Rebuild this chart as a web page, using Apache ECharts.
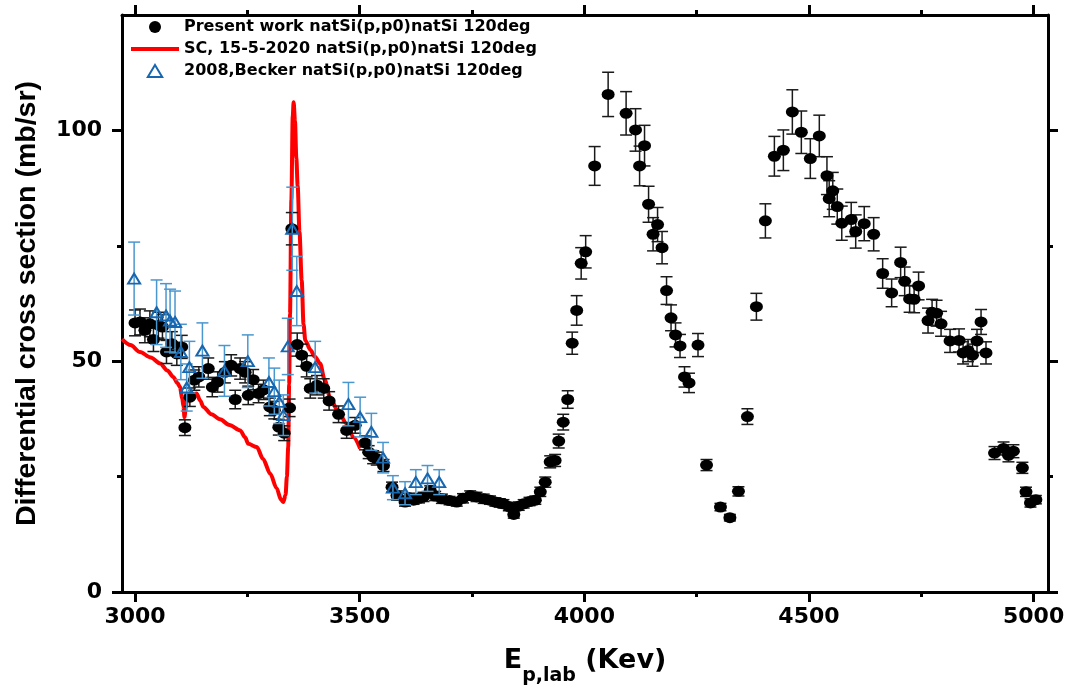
<!DOCTYPE html>
<html>
<head>
<meta charset="utf-8">
<script src="https://cdn.jsdelivr.net/npm/echarts@6/dist/echarts.min.js"></script>
<style>
  html, body { margin: 0; padding: 0; background: #fff; }
  #chart { width: 1070px; height: 692px; }
</style>
</head>
<body>
<div id="chart"></div>
<script>
// axis ranges and ticks
const xMin = 2971, xMax = 5032
const yMin = 0, yMax = 125
const xMajor = [3000, 3500, 4000, 4500, 5000]
const xMinor = [3250, 3750, 4250, 4750]
const yMajor = [0, 50, 100]
const yMinor = [25, 75]

// Present work: energy (keV), cross section (mb/sr), error
const presentX = [3000, 3011, 3022, 3033, 3041, 3052, 3061, 3070, 3082, 3093,
  3104, 3111, 3122, 3132, 3142, 3163, 3172, 3184, 3200, 3214,
  3223, 3234, 3245, 3252, 3263, 3275, 3286, 3300, 3310, 3320,
  3332, 3344, 3349, 3361, 3371, 3382, 3390, 3405, 3420, 3432,
  3453, 3471, 3490, 3512, 3520, 3530, 3538, 3553, 3572, 3583,
  3601, 3610, 3620, 3632, 3642, 3657, 3668, 3683, 3700, 3716,
  3730, 3746, 3760, 3776, 3790, 3802, 3812, 3820, 3832, 3843,
  3854, 3865, 3878, 3891, 3902, 3913, 3924, 3935, 3943, 3953,
  3963, 3973, 3983, 3993, 4003, 4023, 4053, 4093, 4114, 4123,
  4134, 4143, 4153, 4163, 4173, 4183, 4193, 4203, 4213, 4223,
  4233, 4253, 4272, 4303, 4324, 4343, 4363, 4383, 4403, 4423,
  4443, 4463, 4483, 4503, 4523, 4540, 4545, 4553, 4563, 4573,
  4594, 4604, 4623, 4644, 4664, 4684, 4704, 4713, 4724, 4734,
  4744, 4765, 4774, 4784, 4794, 4814, 4834, 4843, 4854, 4864,
  4874, 4883, 4894, 4913, 4933, 4944, 4955, 4975, 4983, 4993,
  5005]
const presentY = [58.3, 58.5, 56.7, 58.1, 54.7, 57.8, 57.4, 52.0, 53.8, 51.6,
  53.1, 35.6, 42.2, 45.9, 46.6, 48.4, 44.4, 45.5, 47.6, 49.1,
  41.7, 48.4, 47.6, 42.6, 46.0, 43.0, 43.8, 40.1, 39.4, 35.7,
  34.4, 39.9, 78.7, 53.6, 51.3, 48.9, 44.1, 44.8, 44.1, 41.4,
  38.5, 35.0, 36.1, 32.3, 30.3, 29.2, 28.9, 27.4, 22.7, 20.9,
  19.5, 20.4, 19.9, 20.3, 20.6, 22.0, 20.8, 20.2, 19.8, 19.5,
  20.3, 20.9, 20.6, 20.2, 19.9, 19.5, 19.3, 19.1, 18.5, 16.8,
  18.6, 19.1, 19.6, 19.9, 21.7, 23.8, 28.2, 28.5, 32.7, 36.8,
  41.7, 53.9, 61.0, 71.2, 73.7, 92.3, 107.8, 103.7, 100.1, 92.3,
  96.7, 84.0, 77.5, 79.6, 74.6, 65.3, 59.4, 55.7, 53.3, 46.6,
  45.3, 53.5, 27.5, 18.4, 16.1, 21.8, 38.0, 61.8, 80.4, 94.4,
  95.7, 104.0, 99.6, 93.9, 98.8, 90.2, 85.2, 86.9, 83.5, 79.9,
  80.7, 78.1, 79.8, 77.5, 69.0, 64.8, 71.4, 67.3, 63.5, 63.4,
  66.3, 58.8, 60.6, 60.4, 58.1, 54.4, 54.5, 51.8, 52.3, 51.3,
  54.4, 58.5, 51.8, 30.1, 31.1, 29.6, 30.5, 26.9, 21.7, 19.3,
  20.0]
const presentErr = [2.8, 2.8, 2.7, 2.8, 2.6, 2.8, 2.7, 2.5, 2.6, 2.5,
  2.5, 1.7, 2.0, 2.2, 2.2, 2.3, 2.1, 2.2, 2.3, 2.3,
  2.0, 2.3, 2.3, 2.0, 2.2, 2.0, 2.1, 1.9, 1.9, 1.7,
  1.6, 1.9, 3.5, 2.5, 2.4, 2.3, 2.1, 2.1, 2.1, 2.0,
  1.8, 1.7, 1.7, 1.5, 1.4, 1.4, 1.4, 1.3, 1.1, 1.0,
  0.9, 1.0, 0.9, 1.0, 1.0, 1.0, 1.0, 1.0, 0.9, 0.9,
  1.0, 1.0, 1.0, 1.0, 0.9, 0.9, 0.9, 0.9, 0.9, 0.8,
  0.9, 0.9, 0.9, 0.9, 1.0, 1.1, 1.3, 1.3, 1.5, 1.7,
  1.9, 2.4, 3.2, 3.4, 3.5, 4.2, 4.8, 4.7, 4.6, 4.3,
  4.4, 3.9, 3.6, 3.7, 3.5, 3.0, 2.8, 2.6, 2.5, 2.2,
  2.1, 2.5, 1.2, 0.8, 0.7, 1.0, 1.7, 2.9, 3.7, 4.3,
  4.4, 4.8, 4.6, 4.3, 4.5, 4.1, 3.9, 4.0, 3.8, 3.7,
  3.7, 3.6, 3.7, 3.6, 3.2, 3.0, 3.3, 3.1, 2.9, 2.9,
  3.0, 2.7, 2.8, 2.8, 2.7, 2.5, 2.5, 2.4, 2.4, 2.4,
  2.5, 2.7, 2.4, 1.4, 1.4, 1.4, 1.4, 1.2, 1.0, 0.9,
  0.9]

// SC calculation (red curve)
const scX = [2971, 2990, 3011, 3035, 3056, 3072, 3085, 3095, 3100, 3105,
  3108, 3110, 3113, 3116, 3125, 3137, 3145, 3152, 3170, 3189,
  3210, 3234, 3245, 3252, 3271, 3285, 3301, 3315, 3325, 3330,
  3335, 3338, 3341, 3343, 3345, 3348, 3351, 3353, 3356, 3359,
  3362, 3366, 3371, 3375, 3379, 3390, 3400, 3412, 3422, 3434,
  3450, 3471, 3486, 3501]
const scY = [54.8, 53.5, 52.0, 50.8, 49.5, 48.0, 46.6, 45.2, 44.4, 42.0,
  40.1, 37.9, 40.0, 42.2, 42.8, 43.0, 41.5, 40.1, 38.5, 37.4,
  36.2, 35.0, 33.5, 32.1, 31.4, 28.8, 25.6, 22.5, 20.0, 19.5,
  21.0, 25.0, 31.4, 45.0, 60.3, 85.0, 103.0, 106.1, 102.0, 94.0,
  88.0, 78.0, 67.5, 58.0, 54.5, 52.5, 51.0, 49.5, 46.0, 42.2,
  39.5, 36.5, 33.5, 31.1]

// 2008, Becker
const beckerX = [2998, 3048, 3069, 3078, 3089, 3102, 3115, 3121, 3150, 3199,
  3251, 3298, 3310, 3321, 3330, 3340, 3350, 3360, 3401, 3475,
  3501, 3526, 3552, 3574, 3601, 3625, 3651, 3677]
const beckerY = [67.9, 60.6, 59.9, 58.8, 58.5, 52.0, 44.3, 48.7, 52.3, 47.9,
  50.0, 45.5, 43.5, 41.2, 38.3, 53.2, 78.7, 65.2, 48.7, 40.7,
  37.9, 34.7, 29.1, 22.6, 21.4, 23.8, 24.6, 23.8]
const beckerErr = [7.9, 7.0, 6.9, 6.8, 6.7, 6.0, 5.1, 5.6, 6.0, 5.5,
  5.7, 5.2, 5.0, 4.7, 4.4, 6.1, 9.0, 7.5, 5.6, 4.7,
  4.3, 4.0, 3.3, 2.6, 2.5, 2.7, 2.8, 2.7]

const nameP = 'Present work natSi(p,p0)natSi 120deg'
const nameSC = 'SC, 15-5-2020 natSi(p,p0)natSi 120deg'
const nameB = '2008,Becker natSi(p,p0)natSi 120deg'

const chart = echarts.init(document.getElementById('chart'))

const tickFont = { fontFamily: 'DejaVu Sans', fontWeight: 'bold', fontSize: 22, color: '#000' }

function xAxisDef(pos, ticks, len, withLabels, withLine) {
  return {
    type: 'value', position: pos, min: xMin, max: xMax,
    splitLine: { show: false },
    axisLine: { show: withLine, onZero: false, lineStyle: { color: '#000', width: 3 } },
    axisTick: { show: true, inside: false, length: len, customValues: ticks, lineStyle: { color: '#000', width: 3 } },
    axisLabel: Object.assign({ show: withLabels, margin: 14, customValues: ticks, formatter: v => String(v) }, tickFont)
  }
}

function yAxisDef(pos, ticks, len, withLabels, withLine) {
  return {
    type: 'value', position: pos, min: yMin, max: yMax,
    splitLine: { show: false },
    axisLine: { show: withLine, onZero: false, lineStyle: { color: '#000', width: 3 } },
    axisTick: { show: true, inside: false, length: len, customValues: ticks, lineStyle: { color: '#000', width: 3 } },
    axisLabel: Object.assign({ show: withLabels, margin: 20, customValues: ticks, formatter: v => String(v) }, tickFont)
  }
}

const xAxes = [
  xAxisDef('bottom', xMajor, 10, true, true),
  xAxisDef('bottom', xMinor, 5, false, false),
  xAxisDef('top', xMajor, 10, false, true),
  xAxisDef('top', xMinor, 5, false, false)
]
xAxes[0].name = '{a|E}{s|p,lab}{a| (Kev)}'
xAxes[0].nameLocation = 'middle'
xAxes[0].nameGap = 52
xAxes[0].nameTextStyle = {
  rich: {
    a: { fontFamily: 'DejaVu Sans', fontWeight: 'bold', fontSize: 27, color: '#000', lineHeight: 34 },
    s: { fontFamily: 'DejaVu Sans', fontWeight: 'bold', fontSize: 19, color: '#000', lineHeight: 34, verticalAlign: 'bottom', padding: [0, 0, -8, 0] }
  }
}

const yAxes = [
  yAxisDef('left', yMajor, 10, true, true),
  yAxisDef('left', yMinor, 5, false, false),
  yAxisDef('right', yMajor, 10, false, true),
  yAxisDef('right', yMinor, 5, false, false)
]
yAxes[0].name = 'Differential cross section (mb/sr)'
yAxes[0].nameLocation = 'middle'
yAxes[0].nameGap = 80
yAxes[0].nameTextStyle = { fontFamily: 'Liberation Sans', fontWeight: 'bold', fontSize: 28.5, color: '#000' }

// error bar drawn with the axes' own coordinate system
function errorBar(color, halfCap, width) {
  return function (params, api) {
    const x = api.value(0), y = api.value(1), e = api.value(2)
    const top = api.coord([x, y + e])
    const bot = api.coord([x, y - e])
    const st = { stroke: color, lineWidth: width }
    return {
      type: 'group',
      children: [
        { type: 'line', shape: { x1: top[0], y1: top[1], x2: bot[0], y2: bot[1] }, style: st },
        { type: 'line', shape: { x1: top[0] - halfCap, y1: top[1], x2: top[0] + halfCap, y2: top[1] }, style: st },
        { type: 'line', shape: { x1: bot[0] - halfCap, y1: bot[1], x2: bot[0] + halfCap, y2: bot[1] }, style: st }
      ]
    }
  }
}

const presentData = presentX.map((x, i) => [x, presentY[i], presentErr[i]])
const beckerData = beckerX.map((x, i) => [x, beckerY[i], beckerErr[i]])
const scData = scX.map((x, i) => [x, scY[i]])

const option = {
  animation: false,
  backgroundColor: '#fff',
  grid: { left: 122, right: 22, top: 15, bottom: 100 },
  xAxis: xAxes,
  yAxis: yAxes,
  legend: {
    orient: 'vertical', left: 124, top: 14,
    itemWidth: 48, itemHeight: 12, itemGap: 6,
    textStyle: { fontFamily: 'DejaVu Sans', fontWeight: 'bold', fontSize: 16, color: '#000' },
    data: [
      { name: nameP },
      { name: nameSC, itemStyle: { opacity: 0 }, lineStyle: { color: '#ff0000', width: 4 } },
      { name: nameB, icon: 'path://M6,0 L12,10 L0,10 Z' }
    ]
  },
  series: [
    {
      name: nameSC, type: 'line', data: scData, symbol: 'none', z: 2,
      smooth: 0.3, smoothMonotone: 'x',
      lineStyle: { color: '#ff0000', width: 4 }, itemStyle: { color: '#ff0000' }
    },
    {
      name: 'presentErr', type: 'custom', data: presentData, z: 3,
      encode: { x: 0, y: 1 }, renderItem: errorBar('#1a1a1a', 6, 1.5)
    },
    {
      name: nameP, type: 'scatter', data: presentData, z: 4,
      symbol: 'circle', symbolSize: [13, 11],
      itemStyle: { color: '#000', opacity: 1 }
    },
    {
      name: 'beckerErr', type: 'custom', data: beckerData, z: 5,
      encode: { x: 0, y: 1 }, renderItem: errorBar('#4a97cf', 6, 1.5)
    },
    {
      name: nameB, type: 'scatter', data: beckerData, z: 6,
      symbol: 'triangle', symbolSize: [12, 10],
      itemStyle: { color: 'rgba(0,0,0,0)', borderColor: '#1767b0', borderWidth: 2, opacity: 1 }
    }
  ]
}

chart.setOption(option)
</script>
</body>
</html>
